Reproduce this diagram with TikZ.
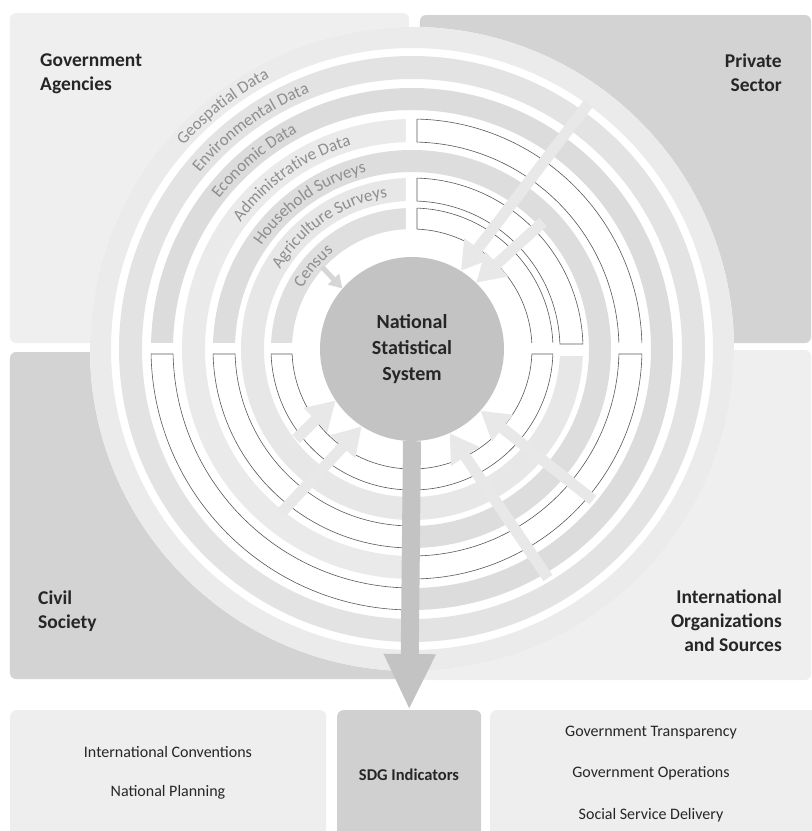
\documentclass[tikz,border=0pt]{standalone}
\usepackage{fontspec}
\setmainfont{Carlito}
\usepackage{tikz}
\usetikzlibrary{arrows.meta,decorations.text}

\definecolor{boxpale}{HTML}{EFEFF0}
\definecolor{boxdark}{HTML}{D3D3D4}
\definecolor{ringa}{HTML}{EBEBEC}
\definecolor{ringb}{HTML}{E3E3E4}
\definecolor{ringc}{HTML}{DCDCDD}
\definecolor{ringd}{HTML}{EAEAEB}
\definecolor{ringe}{HTML}{DDDDDE}
\definecolor{ringf}{HTML}{E7E7E8}
\definecolor{ringg}{HTML}{DFDFE0}
\definecolor{hubgray}{HTML}{C3C3C4}
\definecolor{feedgray}{HTML}{E8E8E9}
\definecolor{censusgray}{HTML}{D6D6D7}
\definecolor{labelgray}{HTML}{8E8E8E}
\definecolor{textdark}{HTML}{262626}
\definecolor{footpale}{HTML}{EEEEEF}
\definecolor{footdark}{HTML}{D0D0D1}

\newcommand{\ringfont}{\fontsize{17}{20}\selectfont\color{labelgray}}
\newcommand{\RingLabel}[3]{%
  \path[decorate,decoration={text along path,text align=center,text={|\ringfont|#3}}]
    ({#2+50}:#1) arc[start angle={#2+50},end angle={#2-50},radius=#1];}

\begin{document}
\begin{tikzpicture}[x=1pt,y=1pt,
  quad/.style={rounded corners=6pt},
  sector/.style={font=\fontsize{19.5}{24}\selectfont\bfseries,text=textdark,inner sep=0pt},
  hub/.style={circle,fill=hubgray,minimum size=184pt,inner sep=0pt,align=center,
    font=\fontsize{20}{26}\selectfont\bfseries,text=textdark},
  slot/.style={fill=white,draw=black!65,line width=.6pt},
  feed/.style={draw=feedgray,line width=11pt,-{Triangle[width=32pt,length=28pt]}},
  censusfeed/.style={draw=censusgray,line width=5pt,-{Triangle[width=15pt,length=13pt]}},
  sdgarrow/.style={draw=hubgray,line width=18pt,-{Triangle[width=48pt,length=56pt]}},
  footbox/.style={rounded corners=6pt,minimum height=140pt,anchor=north west,inner sep=0pt},
  foot/.style={font=\fontsize{16}{19}\selectfont,text=textdark,inner sep=0pt}]
\useasboundingbox (-412,-482) rectangle (400,349);

\fill[boxpale,quad] (-402,6) rectangle (-3,336);
\fill[boxdark,quad] (8,6) rectangle (399,334);
\fill[boxdark,quad] (-402,-330) rectangle (-3,-3);
\fill[boxpale,quad] (8,-331) rectangle (399,-1);

\fill[white] (0,0) circle[radius=322];
\foreach \ri/\ro/\c in {301/322/ringa,270/293/ringb,239/261/ringc,207/230/ringd,
    177/199/ringe,148/171/ringf,120/141/ringg}
  \fill[\c,even odd rule] (0,0) circle[radius=\ro] circle[radius=\ri];

\foreach \ri/\ro/\q in {207/230/0,207/230/270,148/171/0,120/141/0,120/141/180,
    120/141/270,239/261/180,177/199/180}{
  \pgfmathsetmacro\rO{\ro+1}
  \pgfmathsetmacro\rI{\ri-1}
  \begin{scope}
    \clip[rotate=\q] (-6,-6) rectangle (340,340);
    \fill[white,even odd rule] (0,0) circle[radius=\rO] circle[radius=\rI];
  \end{scope}
  \pgfmathsetmacro\ao{asin(5/\ro)}
  \pgfmathsetmacro\ai{asin(5/\ri)}
  \draw[slot] ({\q+\ao}:\ro) arc[start angle={\q+\ao},end angle={\q+90-\ao},radius=\ro]
    -- ({\q+90-\ai}:\ri) arc[start angle={\q+90-\ai},end angle={\q+\ai},radius=\ri] -- cycle;
}

\RingLabel{306}{128}{Geospatial Data}
\RingLabel{276}{126}{Environmental Data}
\RingLabel{244.5}{130}{Economic Data}
\RingLabel{213}{125}{Administrative Data}
\RingLabel{182.5}{125}{Household Surveys}
\RingLabel{154}{124}{Agriculture Surveys}
\RingLabel{125}{140}{Census}

\node[hub] (nss) at (0,0) {National\\Statistical\\System};

\coordinate (priv1) at (176,245);
\coordinate (priv2) at (131,127);
\coordinate (civil1) at (-116,-90);
\coordinate (civil2) at (-130,-163);
\coordinate (intl1) at (181,-151);
\coordinate (intl2) at (136,-229);
\coordinate (census) at (-90,82);
\draw[feed] (priv1) -- (nss.58);
\draw[feed] (priv2) -- (nss.46);
\draw[feed] (civil1) -- (nss.214);
\draw[feed] (civil2) -- (nss.237);
\draw[feed] (intl1) -- (nss.-42);
\draw[feed] (intl2) -- (nss.-66);
\draw[censusfeed] (census) -- (nss.139);

\node[sector,anchor=north west,align=left] (govag) at (-372,295) {Government\\Agencies};
\node[sector,anchor=north east,align=right] (privsec) at (370,295) {Private\\Sector};
\node[sector,anchor=north west,align=left] (civsoc) at (-374,-242) {Civil\\Society};
\node[sector,anchor=north east,align=right] (intlorg) at (370,-241) {International\\Organizations\\and Sources};

\node[footbox,fill=footpale,minimum width=316pt] (uses) at (-402,-361) {};
\node[footbox,fill=footdark,minimum width=144pt] (sdg) at (-75,-361) {};
\node[footbox,fill=footpale,minimum width=330pt] (gov) at (78,-361) {};
\draw[sdgarrow] (nss.south) -- (sdg.north);

\node[foot] (intconv) at (-244,-403) {International Conventions};
\node[foot] (natplan) at (-244,-443) {National Planning};
\node[foot,font=\fontsize{16.5}{19}\selectfont\bfseries] (sdgind) at (-3,-426) {SDG Indicators};
\node[foot] (govtrans) at (239,-384) {Government Transparency};
\node[foot] (govops) at (239,-424) {Government Operations};
\node[foot] (social) at (239,-466) {Social Service Delivery};
\end{tikzpicture}
\end{document}
